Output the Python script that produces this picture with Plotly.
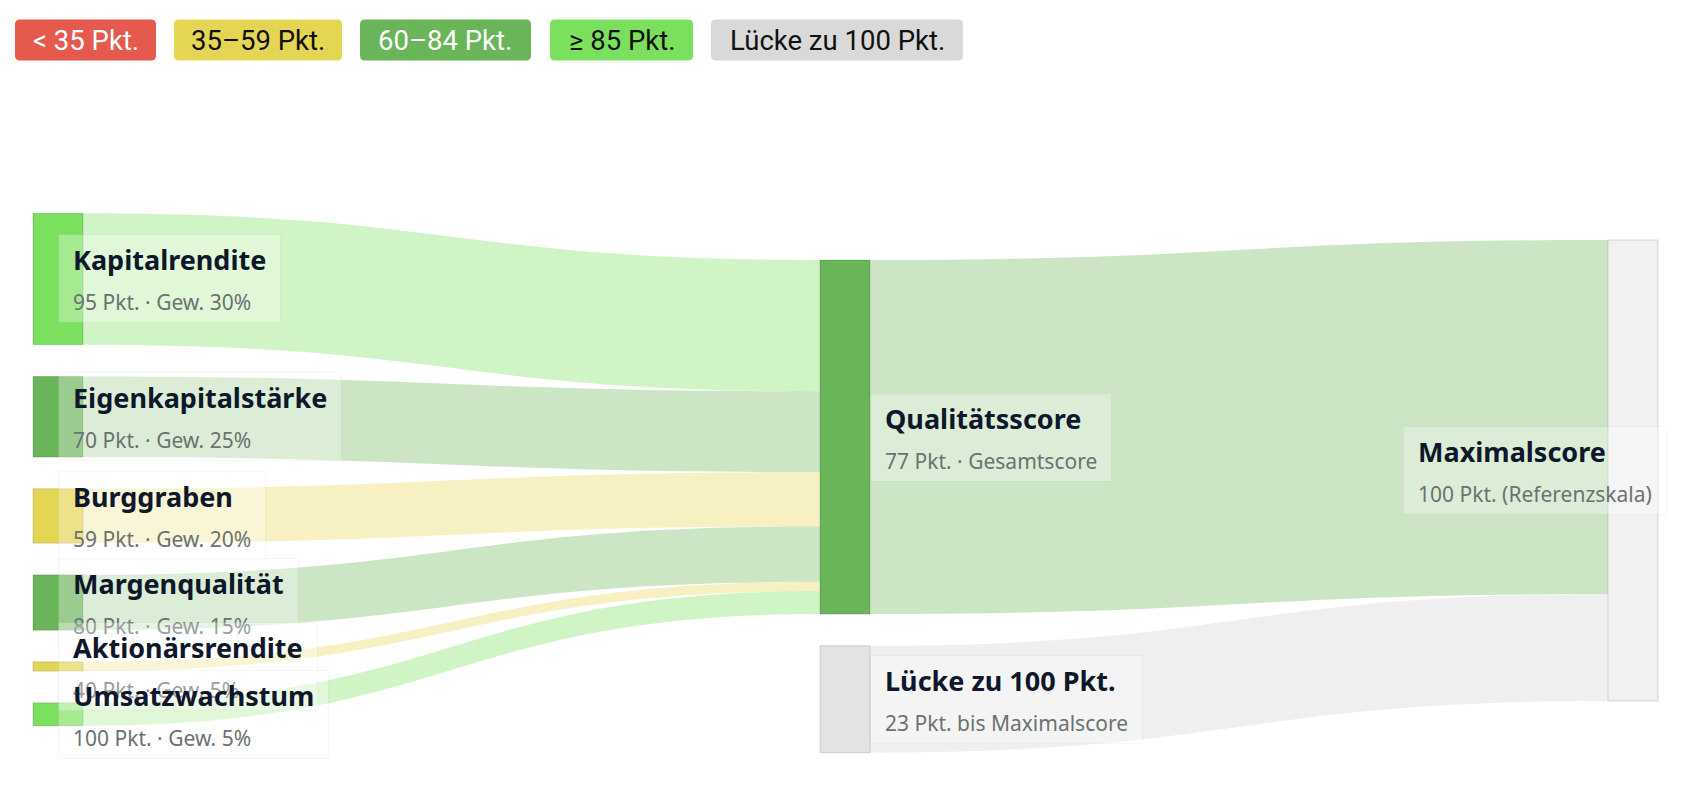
import plotly.graph_objects as go

# ---------------- data ----------------
factor_names = ["Kapitalrendite", "Eigenkapitalstärke", "Burggraben",
                "Margenqualität", "Aktionärsrendite", "Umsatzwachstum"]
factor_scores = [95, 70, 59, 80, 40, 100]
factor_weights = [30, 25, 20, 15, 5, 5]
total_name = "Qualitätsscore"
gap_name = "Lücke zu 100 Pkt."
max_name = "Maximalscore"
max_score = 100

legend_labels = ["< 35 Pkt.", "35–59 Pkt.", "60–84 Pkt.", "≥ 85 Pkt.", "Lücke zu 100 Pkt."]

# ---------------- styles ----------------
OFF = 8                       # page margin of the browser body
W, H = 1691 - 2 * OFF, 792 - 2 * OFF
C_RED, C_YEL, C_GRN, C_LGR = "#e5594f", "#e4d553", "#6ab45a", "#7be05d"
C_GAP, C_MAX = "#e3e3e3", "#f1f1f1"
legend_bg = [C_RED, C_YEL, C_GRN, C_LGR, "#d9d9d9"]
legend_fg = ["#ffffff", "#111111", "#ffffff", "#111111", "#111111"]
legend_left = [15, 174, 360, 550, 711]       # page px
legend_width = [141, 168, 171, 143, 252]
LEG_TOP, LEG_H, LEG_R = 19.5, 41, 5


def band(score):
    if score < 35:
        return C_RED
    if score < 60:
        return C_YEL
    if score < 85:
        return C_GRN
    return C_LGR


def rgba(hexc, a):
    h = hexc.lstrip("#")
    r, g, b = int(h[0:2], 16), int(h[2:4], 16), int(h[4:6], 16)
    return f"rgba({r},{g},{b},{a})"


def px(x):
    return (x - OFF) / W


def py(y):
    return 1 - (y - OFF) / H


# ---------------- derived values ----------------
contrib = [s * w / 100 for s, w in zip(factor_scores, factor_weights)]
total = sum(contrib)
gap = max_score - total

labels = factor_names + [total_name, gap_name, max_name]
values_node = contrib + [total, gap, max_score]
node_colors = [band(s) for s in factor_scores] + [band(round(total)), C_GAP, C_MAX]

n = len(factor_names)
i_tot, i_gap, i_max = n, n + 1, n + 2
src = list(range(n)) + [i_tot, i_gap]
tgt = [i_tot] * n + [i_max, i_max]
val = contrib + [total, gap]
link_colors = [rgba(band(s), 0.35) for s in factor_scores] + \
              [rgba(band(round(total)), 0.35), rgba("#d6d6d6", 0.4)]

# ---------------- layout of columns (page pixels) ----------------
KY = 4.61          # px per point
PAD = 31.7         # gap between stacked nodes
THICK = 50
col_x = [58, 845, 1633]
col_top = [213.3, 260.0, 240.0]
columns = [list(range(n)), [i_tot, i_gap], [i_max]]

node_cx = [0.0] * len(labels)
node_cy = [0.0] * len(labels)
for ci, members in enumerate(columns):
    y = col_top[ci]
    for m in members:
        h = values_node[m] * KY
        node_cx[m] = col_x[ci]
        node_cy[m] = y + h / 2
        y += h + PAD

# d3 pad chosen so that plotly's computed scale equals KY
d3_pad = (H - KY * total) / (n - 1)

fig = go.Figure(go.Sankey(
    domain=dict(x=[0, 1], y=[0, 1]),
    arrangement="fixed",
    node=dict(
        label=labels,
        x=[(cx - OFF) / W for cx in node_cx],
        y=[(cy - OFF) / H for cy in node_cy],
        color=node_colors,
        line=dict(color="rgba(0,0,0,0.14)", width=1),
        thickness=THICK,
        pad=d3_pad,
        align="right",
        hovertemplate="%{label}<extra></extra>",
    ),
    link=dict(source=src, target=tgt, value=val, color=link_colors,
              hovertemplate="%{source.label} → %{target.label}: %{value:.1f}<extra></extra>"),
    textfont=dict(color="rgba(0,0,0,0)", size=1),
))

# ---------------- node label boxes ----------------
subs = [f"{s} Pkt. · Gew. {w}%" for s, w in zip(factor_scores, factor_weights)]
subs += [f"{round(total)} Pkt. · Gesamtscore",
         f"{round(gap)} Pkt. bis Maximalscore",
         f"{max_score} Pkt. (Referenzskala)"]

TITLE_SIZE, SUB_SIZE, BASE_SIZE = 27, 21, 31
BOX_PAD = 6
SIDE = 8   # extra horizontal padding (px) made with an invisible em-dash
spacer = f"<span style='font-size:{SIDE}px;color:rgba(0,0,0,0)'>—</span>"

annotations = []
for i, (name, sub) in enumerate(zip(labels, subs)):
    if i < n:
        ax, anchor = node_cx[i], "left"
    elif i < i_max:
        ax, anchor = node_cx[i] + THICK / 2, "left"
    else:
        ax, anchor = node_cx[i] + THICK / 2 + 9, "right"
    txt = (f"{spacer}<b><span style='font-size:{TITLE_SIZE}px;color:#0f172a'>{name}</span></b>{spacer}<br>"
           f"{spacer}<span style='font-size:{SUB_SIZE}px;color:#6b7270'>{sub}</span>{spacer}")
    annotations.append(dict(
        x=px(ax), y=py(node_cy[i]), xref="paper", yref="paper",
        xanchor=anchor, yanchor="middle", showarrow=False, align="left",
        text=txt, font=dict(family="Noto Sans", size=BASE_SIZE, color="#0f172a"),
        bgcolor="rgba(255,255,255,0.32)", bordercolor="rgba(15,23,42,0.035)", borderwidth=1,
        borderpad=BOX_PAD,
    ))

# ---------------- legend chips (rounded) ----------------
shapes = []
for lab, bg, fg, lx, lw in zip(legend_labels, legend_bg, legend_fg, legend_left, legend_width):
    x0, x1, y0, y1, r = lx, lx + lw, LEG_TOP, LEG_TOP + LEG_H, LEG_R
    path = (f"M {px(x0 + r)},{py(y0)} L {px(x1 - r)},{py(y0)} "
            f"Q {px(x1)},{py(y0)} {px(x1)},{py(y0 + r)} L {px(x1)},{py(y1 - r)} "
            f"Q {px(x1)},{py(y1)} {px(x1 - r)},{py(y1)} L {px(x0 + r)},{py(y1)} "
            f"Q {px(x0)},{py(y1)} {px(x0)},{py(y1 - r)} L {px(x0)},{py(y0 + r)} "
            f"Q {px(x0)},{py(y0)} {px(x0 + r)},{py(y0)} Z")
    shapes.append(dict(type="path", xref="paper", yref="paper", path=path,
                       fillcolor=bg, line=dict(width=0), layer="above"))
    annotations.append(dict(
        x=px(lx + lw / 2), y=py(LEG_TOP + LEG_H / 2 + 1), xref="paper", yref="paper",
        xanchor="center", yanchor="middle", showarrow=False, align="center",
        text=lab, font=dict(family="Roboto", size=27.5, color=fg),
    ))

fig.update_layout(
    width=W, height=H,
    margin=dict(l=0, r=0, t=0, b=0),
    paper_bgcolor="white", plot_bgcolor="white",
    annotations=annotations, shapes=shapes,
    font=dict(family="Noto Sans"),
)

fig.write_html("out.html", config={"displayModeBar": False})
